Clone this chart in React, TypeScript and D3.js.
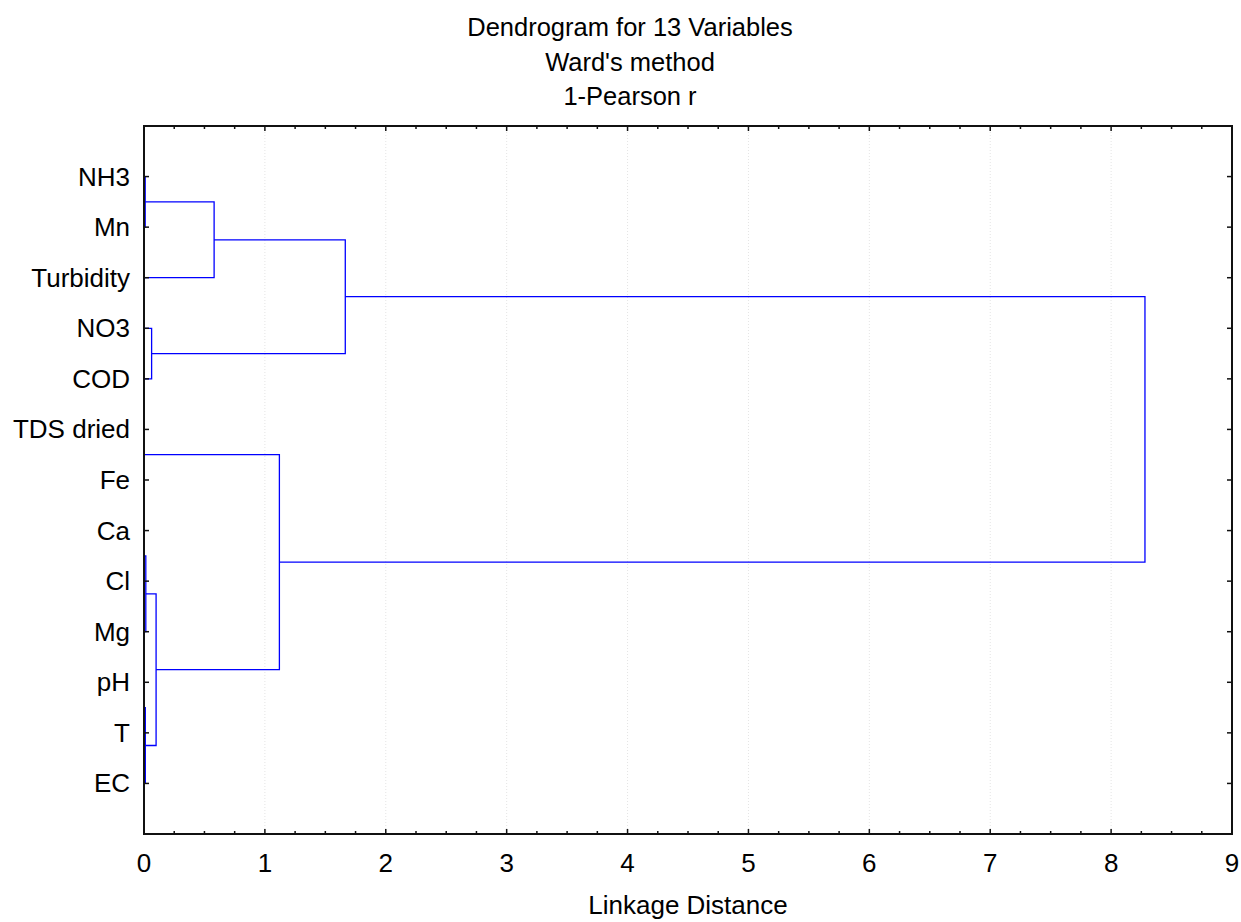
import React from "react";
import * as d3 from "d3";

const labels = ["NH3", "Mn", "Turbidity", "NO3", "COD", "TDS dried", "Fe", "Ca", "Cl", "Mg", "pH", "T", "EC"];
// merges: [childA, childB, linkage distance]; leaves are 0..12, new clusters get ids 13, 14, ...
const mergeA = [0, 3, 5, 7, 10, 16, 17, 13, 18, 20, 15, 22];
const mergeB = [1, 4, 6, 8, 11, 9, 12, 2, 19, 14, 21, 23];
const mergeH = [0.01, 0.063, 0.002, 0.002, 0.003, 0.015, 0.011, 0.58, 0.1, 1.665, 1.12, 8.28];
const xTicks = [0, 1, 2, 3, 4, 5, 6, 7, 8, 9];
const titleLines = ["Dendrogram for 13 Variables", "Ward's method", "1-Pearson r"];
const xAxisTitle = "Linkage Distance";

const W = 1241, H = 922;
const L = 144, R = 1232, T = 126, B = 834;
const FONT = "'Liberation Sans', Arial, sans-serif";
const FS = 26;

export default function App() {
  const x = d3.scaleLinear().domain([0, 9]).range([L, R]);
  const y = d3.scalePoint<string>().domain(labels).range([T, B]).padding(1);

  const nodeY: number[] = labels.map((l) => y(l) as number);
  const nodeH: number[] = labels.map(() => 0);
  const paths: string[] = [];
  mergeA.forEach((a, i) => {
    const b = mergeB[i];
    const h = mergeH[i];
    const p = d3.path();
    p.moveTo(x(nodeH[a]), nodeY[a]);
    p.lineTo(x(h), nodeY[a]);
    p.lineTo(x(h), nodeY[b]);
    p.lineTo(x(nodeH[b]), nodeY[b]);
    paths.push(p.toString());
    nodeY.push((nodeY[a] + nodeY[b]) / 2);
    nodeH.push(h);
  });

  const minor = d3.range(0, 9.0001, 0.25).filter((v) => Math.abs(v - Math.round(v)) > 1e-6);

  return (
    <svg width={W} height={H} style={{ position: "absolute", left: 0, top: 0, background: "#fff" }} fontFamily={FONT}>
      <rect x={0} y={0} width={W} height={H} fill="#fff" />
      {titleLines.map((t, i) => (
        <text key={t} x={630} y={36 + i * 34.5} textAnchor="middle" fontSize={25.5} fill="#000">{t}</text>
      ))}
      {xTicks.slice(1, -1).map((v) => (
        <line key={"g" + v} x1={x(v)} x2={x(v)} y1={T} y2={B} stroke="#e4e4e4" strokeWidth={1} strokeDasharray="1,2" />
      ))}
      <g fill="none" stroke="#0000ff" strokeWidth={1.3}>
        {paths.map((d, i) => <path key={i} d={d} />)}
      </g>
      <rect x={L} y={T} width={R - L} height={B - T} fill="none" stroke="#111" strokeWidth={2} />
      <g stroke="#111" strokeWidth={1.5}>
        {xTicks.map((v) => (
          <g key={"t" + v}>
            <line x1={x(v)} x2={x(v)} y1={B} y2={B - 5} />
            <line x1={x(v)} x2={x(v)} y1={T} y2={T + 5} />
          </g>
        ))}
        {minor.map((v) => (
          <g key={"m" + v}>
            <line x1={x(v)} x2={x(v)} y1={B} y2={B - 3} />
            <line x1={x(v)} x2={x(v)} y1={T} y2={T + 3} />
          </g>
        ))}
        {labels.map((l) => (
          <g key={"yt" + l}>
            <line x1={L} x2={L + 5} y1={y(l)} y2={y(l)} />
            <line x1={R} x2={R - 5} y1={y(l)} y2={y(l)} />
          </g>
        ))}
      </g>
      {xTicks.map((v) => (
        <text key={"xl" + v} x={x(v)} y={872} textAnchor="middle" fontSize={FS} fill="#000">{v}</text>
      ))}
      {labels.map((l) => (
        <text key={"yl" + l} x={130} y={(y(l) as number) + 9} textAnchor="end" fontSize={FS} fill="#000">{l}</text>
      ))}
      <text x={(L + R) / 2} y={914} textAnchor="middle" fontSize={FS} fill="#000">{xAxisTitle}</text>
    </svg>
  );
}
